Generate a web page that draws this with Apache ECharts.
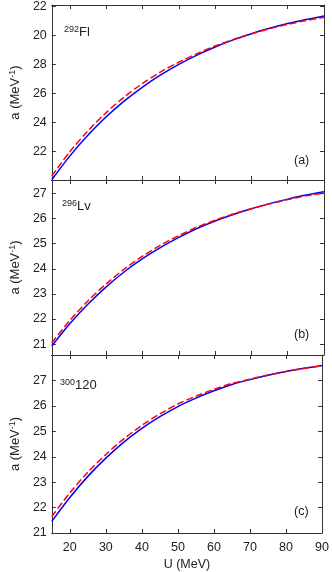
<!DOCTYPE html>
<html>
<head>
<meta charset="utf-8">
<script src="https://cdn.jsdelivr.net/npm/echarts@6/dist/echarts.min.js"></script>
<style>
  html, body { margin: 0; padding: 0; background: #fff; }
  #chart { width: 332px; height: 572px; }
</style>
</head>
<body>
<div id="chart"></div>
<script>
// 여기 데이터 (U in MeV)
var energy = [15, 20, 25, 30, 35, 40, 45, 50, 55, 60, 65, 70, 75, 80, 85, 90];

// (a) 292Fl
var flSolid  = [20.02, 21.67, 23.11, 24.37, 25.47, 26.43, 27.27, 28.00, 28.64, 29.20, 29.69, 30.12, 30.49, 30.82, 31.10, 31.35];
var flDashed = [20.27, 21.97, 23.41, 24.67, 25.75, 26.68, 27.48, 28.15, 28.74, 29.27, 29.72, 30.11, 30.46, 30.77, 31.03, 31.25];
// (b) 296Lv
var lvSolid  = [20.93, 21.82, 22.60, 23.28, 23.88, 24.40, 24.85, 25.25, 25.60, 25.90, 26.16, 26.39, 26.59, 26.77, 26.93, 27.06];
var lvDashed = [21.06, 21.95, 22.73, 23.40, 23.99, 24.50, 24.94, 25.32, 25.65, 25.93, 26.18, 26.39, 26.58, 26.75, 26.90, 27.01];
// (c) 300120
var e120Solid  = [21.46, 22.40, 23.23, 23.95, 24.58, 25.12, 25.58, 25.98, 26.31, 26.60, 26.85, 27.04, 27.21, 27.36, 27.49, 27.60];
var e120Dashed = [21.65, 22.58, 23.39, 24.09, 24.71, 25.24, 25.69, 26.08, 26.39, 26.66, 26.89, 27.06, 27.22, 27.36, 27.48, 27.58];

// 눈금
var xTicks = [20, 30, 40, 50, 60, 70, 80, 90];
var flTicks = [22, 24, 26, 28, 30, 32];
var flTickLabels = ['22', '24', '26', '28', '20', '22'];
var lvTicks = [21, 22, 23, 24, 25, 26, 27];
var e120Ticks = [21, 22, 23, 24, 25, 26, 27];

var textColor = '#222';
var lineColor = '#333';
var fontFamily = '"Liberation Sans", Arial, sans-serif';

var toPairs = function(ys) {
  return energy.map(function(u, i) { return [u, ys[i]]; });
};

var panels = [
  { top: 5,   height: 175, min: 20,    max: 32.1,  ticks: flTicks,   labels: flTickLabels, solid: flSolid,   dashed: flDashed },
  { top: 180, height: 175, min: 20.57, max: 27.53, ticks: lvTicks,   labels: null,         solid: lvSolid,   dashed: lvDashed },
  { top: 355, height: 178, min: 21,    max: 28.01, ticks: e120Ticks, labels: null,         solid: e120Solid, dashed: e120Dashed }
];

var grid = [], xAxis = [], yAxis = [], series = [];

panels.forEach(function(p, i) {
  grid.push({ left: 40, right: 8, top: p.top, height: p.height });

  var isLast = (i === panels.length - 1);

  // 아래 / 위 x축
  [false, true].forEach(function(isTop) {
    xAxis.push({
      type: 'value',
      gridIndex: i,
      position: isTop ? 'top' : 'bottom',
      min: 15,
      max: 90,
      axisLine: { show: true, onZero: false, lineStyle: { color: lineColor, width: 1 } },
      axisTick: { show: true, inside: true, length: 4, customValues: xTicks, lineStyle: { color: lineColor } },
      axisLabel: {
        show: isLast && !isTop,
        customValues: xTicks,
        margin: 8,
        color: textColor,
        fontSize: 12.5,
        fontFamily: fontFamily
      },
      splitLine: { show: false },
      name: (isLast && !isTop) ? 'U (MeV)' : '',
      nameLocation: 'middle',
      nameGap: 25,
      nameTextStyle: { color: textColor, fontSize: 12.5, fontFamily: fontFamily }
    });
  });

  // 왼쪽 / 오른쪽 y축
  [false, true].forEach(function(isRight) {
    yAxis.push({
      type: 'value',
      gridIndex: i,
      position: isRight ? 'right' : 'left',
      min: p.min,
      max: p.max,
      axisLine: { show: true, onZero: false, lineStyle: { color: lineColor, width: 1 } },
      axisTick: { show: true, inside: true, length: 4, customValues: p.ticks, lineStyle: { color: lineColor } },
      axisLabel: {
        show: !isRight,
        customValues: p.ticks,
        margin: 5,
        color: textColor,
        fontSize: 12.5,
        fontFamily: fontFamily,
        formatter: function(v) {
          if (p.labels) {
            var idx = p.ticks.indexOf(Math.round(v));
            return idx >= 0 ? p.labels[idx] : '';
          }
          return String(Math.round(v));
        }
      },
      splitLine: { show: false },
      name: isRight ? '' : 'a (MeV{sup|-1})',
      nameLocation: 'middle',
      nameRotate: 90,
      nameGap: 25,
      nameTextStyle: {
        color: textColor,
        fontSize: 13,
        fontFamily: fontFamily,
        rich: {
          sup: { fontSize: 9, color: textColor, fontFamily: fontFamily, padding: [0, 0, 6, 0] }
        }
      }
    });
  });

  series.push({
    type: 'line',
    xAxisIndex: i * 2,
    yAxisIndex: i * 2,
    data: toPairs(p.solid),
    smooth: 0.3,
    showSymbol: false,
    lineStyle: { color: '#0000ff', width: 1.5 },
    silent: true,
    animation: false
  });
  series.push({
    type: 'line',
    xAxisIndex: i * 2,
    yAxisIndex: i * 2,
    data: toPairs(p.dashed),
    smooth: 0.3,
    showSymbol: false,
    lineStyle: { color: '#ff0000', width: 1.5, type: [7, 3] },
    silent: true,
    animation: false
  });
});

// 패널 안의 글자
var supStyle = { fontSize: 9, fontFamily: fontFamily, fill: textColor, padding: [0, 0, 6, 0] };
var mainStyle = { fontSize: 13, fontFamily: fontFamily, fill: textColor };

var nucleusText = function(x, y, mass, name) {
  return {
    type: 'text',
    left: x,
    top: y,
    style: {
      text: '{sup|' + mass + '}{main|' + name + '}',
      rich: { sup: supStyle, main: mainStyle }
    }
  };
};

var panelLetter = function(x, y, letter) {
  return {
    type: 'text',
    left: x,
    top: y,
    style: { text: letter, fontSize: 12.5, fontFamily: fontFamily, fill: textColor }
  };
};

var option = {
  animation: false,
  grid: grid,
  xAxis: xAxis,
  yAxis: yAxis,
  series: series,
  graphic: [
    nucleusText(64, 25, '292', 'Fl'),
    nucleusText(62, 199, '296', 'Lv'),
    nucleusText(60, 378, '300', '120'),
    panelLetter(294, 154, '(a)'),
    panelLetter(294, 328, '(b)'),
    panelLetter(294, 505, '(c)')
  ]
};

var myChart = echarts.init(document.getElementById('chart'), null, { renderer: 'canvas' });
myChart.setOption(option);
</script>
</body>
</html>
